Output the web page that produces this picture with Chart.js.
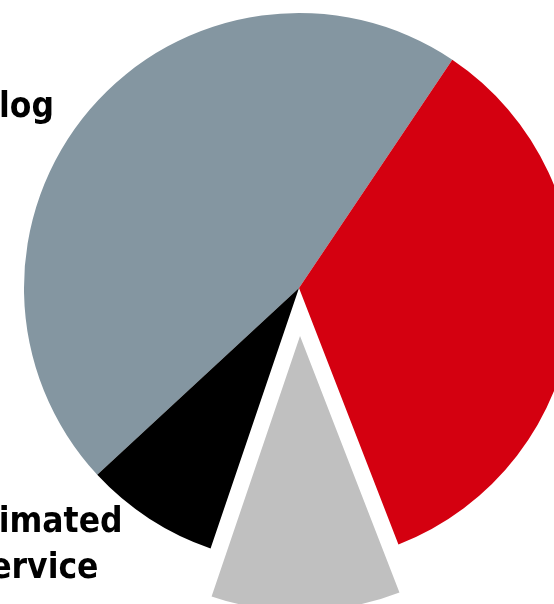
<!DOCTYPE html>
<html>
<head>
<meta charset="utf-8">
<script src="https://cdn.jsdelivr.net/npm/chart.js@4/dist/chart.umd.min.js"></script>
<style>
  html, body { margin: 0; padding: 0; background: #ffffff; }
  #wrap { width: 554px; height: 604px; }
</style>
</head>
<body>
<div id="wrap"><canvas id="c" width="554" height="604"></canvas></div>
<script>
// Data
const categories = ["Backlog", "Current Need", "Planned Renewal", "Estimated Service (ESL)"];
const values = [46.3, 34.7, 11.1, 7.9];
const sliceColors = ["#8496A1", "#D40010", "#C0C0C0", "#000000"];
const labelLines = {
  0: ["Backlog"],
  3: ["Estimated", "Service", "(ESL)"]
};
const explodedIndex = 2;
const explodeDistance = 48;

const explodePlugin = {
  id: 'explodeSlice',
  afterDatasetUpdate(chart, args) {
    const meta = chart.getDatasetMeta(args.index);
    const arc = meta.data[explodedIndex];
    if (!arc) return;
    const mid = (arc.startAngle + arc.endAngle) / 2;
    arc.x += Math.cos(mid) * explodeDistance;
    arc.y += Math.sin(mid) * explodeDistance;
  }
};

const labelPlugin = {
  id: 'outsideLabels',
  afterDraw(chart) {
    const meta = chart.getDatasetMeta(0);
    const arc = meta.data[0];
    const cx = arc.x, cy = arc.y;
    const ctx = chart.ctx;
    ctx.save();
    ctx.fillStyle = '#000000';
    ctx.font = "bold 35px 'DejaVu Sans Condensed', 'DejaVu Sans', sans-serif";
    ctx.textBaseline = 'alphabetic';
    // Backlog label (upper left)
    ctx.textAlign = 'right';
    labelLines[0].forEach((t, i) => ctx.fillText(t, cx - 245, cy - 171 + i * 46));
    // Estimated Service label (lower left)
    ctx.textAlign = 'center';
    labelLines[3].forEach((t, i) => ctx.fillText(t, cx - 266, cy + 244 + i * 46 + (i === 2 ? 10 : 0)));
    ctx.restore();
  }
};

new Chart(document.getElementById('c'), {
  type: 'pie',
  data: {
    labels: categories,
    datasets: [{
      data: values,
      backgroundColor: sliceColors,
      borderWidth: 0
    }]
  },
  options: {
    responsive: false,
    animation: false,
    events: [],
    rotation: 227.2,
    radius: 275,
    layout: { padding: { left: 44, right: 0, top: 0, bottom: 28 } },
    plugins: {
      legend: { display: false },
      tooltip: { enabled: false }
    }
  },
  plugins: [explodePlugin, labelPlugin]
});
</script>
</body>
</html>
